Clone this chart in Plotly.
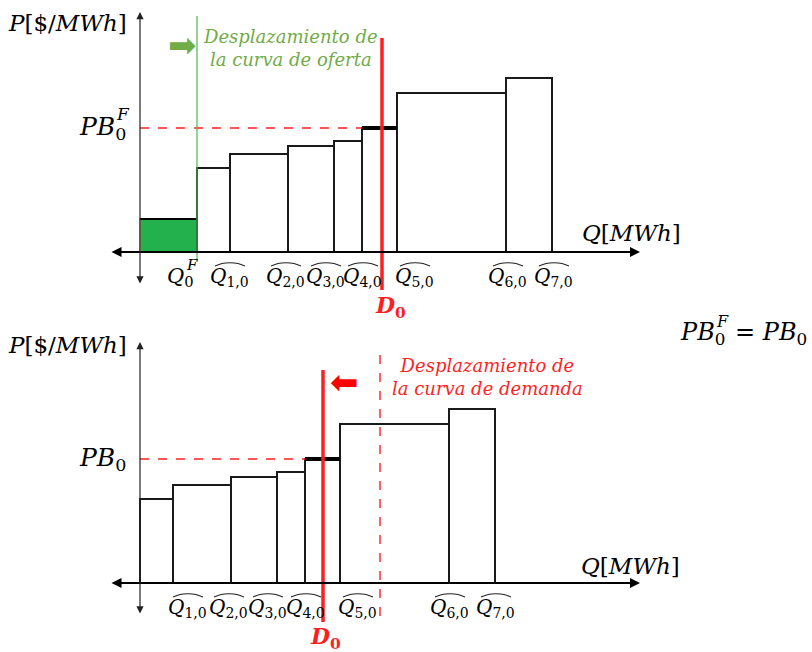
import plotly.graph_objects as go
import numpy as np

# ---------------- data ----------------
Q_F = 57          # quantity of the new supply block (Q0^F)
P_F = 33          # price of the new supply block
widths = [33, 58, 46, 28, 35, 109, 46]      # supply blocks Q1..Q7
prices = [84, 98, 106, 111, 124, 159, 174]  # offer prices
marginal = 4                                # index of marginal block
D0_top = 242       # demand in top panel
D0_bottom = 183    # demand after shift (bottom panel)
block_labels = ["1,0", "2,0", "3,0", "4,0", "5,0", "6,0", "7,0"]

FONT = "DejaVu Serif"
RED = "#FF1F1F"
GREEN_TXT = "#6FAC46"

widths = np.array(widths)
top_starts = Q_F + np.concatenate([[0], np.cumsum(widths)[:-1]])
bot_starts = np.concatenate([[0], np.cumsum(widths)[:-1]])
PB = prices[marginal]

fig = go.Figure()

def line(xs, ys, xa, ya, **kw):
    fig.add_trace(go.Scatter(x=list(xs), y=list(ys), mode="lines", line=kw,
                             xaxis=xa, yaxis=ya, showlegend=False, hoverinfo="skip"))

def panel(starts, xa, ya, green):
    if green:
        fig.add_trace(go.Bar(x=[0], y=[P_F], width=[Q_F], offset=0, base=0,
                             marker=dict(color="#22B14C", line=dict(color="#92D050", width=2)),
                             xaxis=xa, yaxis=ya, showlegend=False, hoverinfo="skip"))
        line([0, Q_F], [P_F, P_F], xa, ya, color="black", width=2)
    fig.add_trace(go.Bar(x=list(starts), y=prices, width=list(widths), offset=0, base=0,
                         marker=dict(color="white", line=dict(color="#1a1a1a", width=2)),
                         xaxis=xa, yaxis=ya, showlegend=False, hoverinfo="skip"))
    s = starts[marginal]
    e = s + widths[marginal]
    line([0, s], [PB, PB], xa, ya, color=RED, width=1.6, dash="dash")
    line([s, e], [PB, PB], xa, ya, color="black", width=4)

panel(top_starts, "x", "y", True)
panel(bot_starts, "x2", "y2", False)

# vertical lines
line([Q_F, Q_F], [236, -10], "x", "y", color="#4CB84C", width=1.2)
line([D0_top, D0_top], [214, -38], "x", "y", color=RED, width=3.5)
line([D0_bottom, D0_bottom], [213, -39], "x2", "y2", color=RED, width=3.5)
line([D0_top - 2, D0_top - 2], [228, -42], "x2", "y2", color=RED, width=1.4, dash="dash")

ann = []
# axes arrows
for xr, yr, ytop, ybot in [("x", "y", 240, -33), ("x2", "y2", 241, -32)]:
    ann.append(dict(x=500, y=0, ax=-30, ay=0, xref=xr, yref=yr, axref=xr, ayref=yr,
                    showarrow=True, arrowhead=2, startarrowhead=2, arrowside="end+start",
                    arrowwidth=2, arrowsize=1, arrowcolor="black", text=""))
    ann.append(dict(x=0, y=ytop, ax=0, ay=ybot, xref=xr, yref=yr, axref=xr, ayref=yr,
                    showarrow=True, arrowhead=2, startarrowhead=2, arrowside="end+start",
                    arrowwidth=1.2, arrowsize=1.2, arrowcolor="#222", text=""))

def txt(x, y, t, xr, yr, size=22, color="black", xanchor="center", yanchor="middle", **kw):
    ann.append(dict(x=x, y=y, xref=xr, yref=yr, text=t, showarrow=False,
                    font=dict(family=FONT, size=size, color=color),
                    xanchor=xanchor, yanchor=yanchor, **kw))

# axis titles
txt(-73, 229, "<i>P</i>[$/<i>MWh</i>]", "x", "y", size=23)
txt(-73, 238, "<i>P</i>[$/<i>MWh</i>]", "x2", "y2", size=23)
txt(491, 19, "<i>Q</i>[<i>MWh</i>]", "x", "y", size=23)
txt(490, 17, "<i>Q</i>[<i>MWh</i>]", "x2", "y2", size=23)
txt(-12, PB, "<i>PB</i><sub>0</sub>", "x", "y", size=25, xanchor="right")
txt(-8, PB + 14, "<i>F</i>", "x", "y", size=17, xanchor="right")
txt(-12, PB, "<i>PB</i><sub>0</sub>", "x2", "y2", size=25, xanchor="right")

# shift texts
txt(150, 204, "<i>Desplazamiento de<br>la curva de oferta</i>", "x", "y", size=18, color=GREEN_TXT)
txt(347, 206, "<i>Desplazamiento de<br>la curva de demanda</i>", "x2", "y2", size=18, color=RED)
ann.append(dict(x=42, y=207, xref="x", yref="y", text="➡", showarrow=False,
                font=dict(family="DejaVu Sans", size=34, color="#70AD47")))
ann.append(dict(x=204, y=201, xref="x2", yref="y2", text="⬅", showarrow=False,
                font=dict(family="DejaVu Sans", size=34, color="#FF0000")))

# demand labels
txt(D0_top + 8, -55, "<b><i>D</i><sub>0</sub></b>", "x", "y", size=22, color=RED)
txt(D0_bottom + 2, -55, "<b><i>D</i><sub>0</sub></b>", "x2", "y2", size=22, color=RED)

# quantity labels
top_ends = top_starts + widths
bot_ends = bot_starts + widths
top_shift = [-1, -3, -9, 0, 17, 1, 1]
bot_shift = [14, -3, -10, 0, 17, 0, 0]
txt(Q_F - 1, -25, "<i>Q</i><sub>0</sub>", "x", "y", size=21, xanchor="right")
txt(Q_F + 3, -13, "<i>F</i>", "x", "y", size=15, xanchor="right")
for ends, sh, xr, yr in [(top_ends, top_shift, "x", "y"), (bot_ends, bot_shift, "x2", "y2")]:
    for e, s, lab in zip(ends, sh, block_labels):
        txt(e, -25, "<i>Q</i><sub>%s</sub>" % lab, xr, yr, size=20, xshift=s)
        c = e + s + 1
        fig.add_trace(go.Scatter(x=[c - 15, c - 8, c, c + 8, c + 15],
                                 y=[-14, -11.5, -10.8, -11.5, -14], mode="lines",
                                 line=dict(color="#222", width=1.1, shape="spline"),
                                 xaxis=xr, yaxis=yr, showlegend=False, hoverinfo="skip"))

# equality note (paper coords)
ey = 1 - 333 / 652
txt(727 / 812, ey, "<i>PB</i><sub>0</sub>", "paper", "paper", size=24, xanchor="right")
txt(731 / 812, ey + 12 / 652, "<i>F</i>", "paper", "paper", size=16, xanchor="right")
txt(733 / 812, ey, "= <i>PB</i><sub>0</sub>", "paper", "paper", size=24, xanchor="left")

ax_common = dict(visible=False, range=[-140, 672], fixedrange=True)
fig.update_layout(
    width=812, height=652, margin=dict(l=0, r=0, t=0, b=0),
    paper_bgcolor="white", plot_bgcolor="white",
    barmode="overlay", bargap=0,
    xaxis=dict(domain=[0, 1], anchor="y", **ax_common),
    yaxis=dict(domain=[0.5, 1], anchor="x", range=[-74, 252], visible=False),
    xaxis2=dict(domain=[0, 1], anchor="y2", **ax_common),
    yaxis2=dict(domain=[0, 0.5], anchor="x2", range=[-69, 257], visible=False),
    annotations=ann,
    showlegend=False,
)

fig.write_html("out.html", config={"displayModeBar": False},
               post_script="document.body.style.margin='0';")
